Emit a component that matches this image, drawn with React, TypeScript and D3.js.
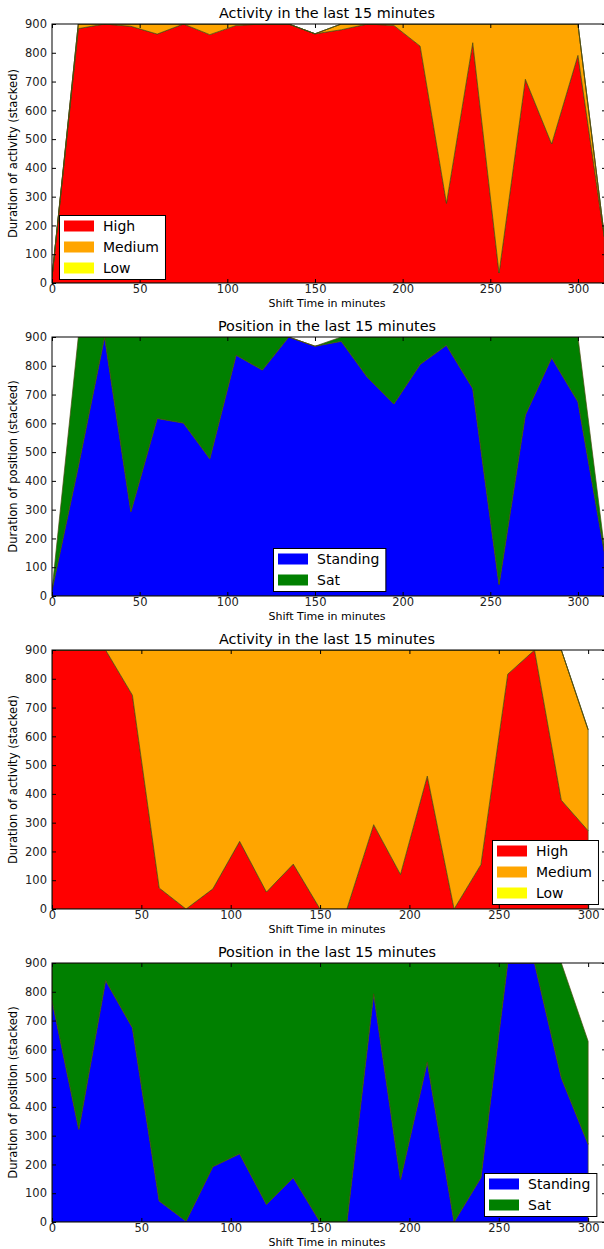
import React, { useEffect, useRef } from 'react'
import * as d3 from 'd3'

/* shift times in minutes */
const minutesLong = [0, 15, 30, 45, 60, 75, 90, 105, 120, 135, 150, 165, 180, 195, 210, 225, 240, 255, 270, 285, 300, 315]
const minutesShort = [0, 15, 30, 45, 60, 75, 90, 105, 120, 135, 150, 165, 180, 195, 210, 225, 240, 255, 270, 285, 300]

/* panel 1 - activity */
const high1 = [20, 884, 900, 892, 865, 900, 863, 895, 900, 900, 866, 880, 900, 895, 823, 277, 835, 35, 708, 483, 791, 160]
const medium1 = [0, 16, 0, 8, 35, 0, 37, 5, 0, 0, 0, 20, 0, 5, 77, 623, 65, 865, 192, 417, 109, 5]
const low1 = [0, 0, 0, 0, 0, 0, 0, 0, 0, 0, 0, 0, 0, 0, 0, 0, 0, 0, 0, 0, 0, 0]

/* panel 2 - position */
const standing2 = [20, 450, 900, 293, 617, 601, 477, 837, 785, 900, 868, 885, 759, 667, 805, 871, 721, 40, 629, 828, 675, 155]
const sat2 = [0, 450, 0, 607, 283, 299, 423, 63, 115, 0, 0, 15, 141, 233, 95, 29, 179, 860, 271, 72, 225, 15]

/* panel 3 - activity */
const high3 = [900, 900, 900, 743, 73, 0, 70, 235, 59, 156, 0, 0, 293, 120, 462, 0, 154, 816, 900, 378, 272]
const medium3 = [0, 0, 0, 157, 827, 900, 830, 665, 841, 744, 900, 900, 607, 780, 438, 900, 746, 84, 0, 522, 351]
const low3 = [0, 0, 0, 0, 0, 0, 0, 0, 0, 0, 0, 0, 0, 0, 0, 0, 0, 0, 0, 0, 0]

/* panel 4 - position */
const standing4 = [770, 322, 839, 675, 73, 3, 192, 237, 61, 154, 0, 0, 793, 148, 556, 0, 154, 900, 900, 501, 270]
const sat4 = [130, 578, 61, 225, 827, 897, 708, 663, 839, 746, 900, 900, 107, 752, 344, 900, 746, 0, 0, 399, 358]

const activityKeys = ['High', 'Medium', 'Low']
const activityColors = ['#ff0000', '#ffa500', '#ffff00']
const positionKeys = ['Standing', 'Sat']
const positionColors = ['#0000ff', '#008000']

const yTicks = [0, 100, 200, 300, 400, 500, 600, 700, 800, 900]
const xTicks = [0, 50, 100, 150, 200, 250, 300]

const panels = [
  { title: 'Activity in the last 15 minutes', ylabel: 'Duration of activity (stacked)', times: minutesLong, xMax: 316,
    keys: activityKeys, colors: activityColors, series: [high1, medium1, low1], top: 24, legend: [59, 215] },
  { title: 'Position in the last 15 minutes', ylabel: 'Duration of position (stacked)', times: minutesLong, xMax: 316,
    keys: positionKeys, colors: positionColors, series: [standing2, sat2], top: 337, legend: [273, 548] },
  { title: 'Activity in the last 15 minutes', ylabel: 'Duration of activity (stacked)', times: minutesShort, xMax: 310,
    keys: activityKeys, colors: activityColors, series: [high3, medium3, low3], top: 650, legend: [492, 840] },
  { title: 'Position in the last 15 minutes', ylabel: 'Duration of position (stacked)', times: minutesShort, xMax: 310,
    keys: positionKeys, colors: positionColors, series: [standing4, sat4], top: 963, legend: [484, 1173] },
]

const W = 604
const H = 1249
const FONT = 'DejaVu Sans, sans-serif'

function textWidth(s: string, size: number) {
  const ctx = document.createElement('canvas').getContext('2d')!
  ctx.font = `${size}px DejaVu Sans`
  return ctx.measureText(s).width
}

function drawPanel(svg: any, p: any, idx: number) {
  const left = 52, right = 606, top = p.top, bottom = p.top + 259
  const x = d3.scaleLinear().domain([0, p.xMax]).range([left, right])
  const y = d3.scaleLinear().domain([0, 900]).range([bottom, top])

  const rows = p.times.map((t: number, i: number) => {
    const r: any = { t }
    p.keys.forEach((k: string, j: number) => { r[k] = p.series[j][i] })
    return r
  })
  const layers = d3.stack().keys(p.keys)(rows)
  const area = d3.area<any>()
    .x(d => x(d.data.t))
    .y0(d => y(d[0]))
    .y1(d => y(d[1]))

  const g = svg.append('g')
  const clipId = `clip${idx}`
  g.append('clipPath').attr('id', clipId)
    .append('rect').attr('x', left).attr('y', top).attr('width', right - left).attr('height', bottom - top)

  g.append('g').attr('clip-path', `url(#${clipId})`)
    .selectAll('path')
    .data(layers)
    .enter()
    .append('path')
    .attr('d', area)
    .attr('fill', (d: any, i: number) => p.colors[i])
    .attr('stroke', '#4a4a10')
    .attr('stroke-width', 0.7)

  /* axes, ticks pointing inward on all sides */
  const ax = (a: any) => a.tickSizeInner(-4).tickSizeOuter(0)
  g.append('g').attr('transform', `translate(0,${bottom})`)
    .call(ax(d3.axisBottom(x).tickValues(xTicks)).tickPadding(2))
  g.append('g').attr('transform', `translate(${left},0)`)
    .call(ax(d3.axisLeft(y).tickValues(yTicks)).tickPadding(5))
  g.append('g').attr('transform', `translate(0,${top})`)
    .call(ax(d3.axisTop(x).tickValues(xTicks)).tickFormat(() => ''))
  g.append('g').attr('transform', `translate(${right},0)`)
    .call(ax(d3.axisRight(y).tickValues(yTicks)).tickFormat(() => ''))
  g.selectAll('.domain').remove()
  g.selectAll('.tick line').attr('stroke', '#000')
  g.selectAll('.tick text').attr('font-family', FONT).attr('font-size', 11.5).attr('fill', '#222')

  g.append('rect')
    .attr('x', left).attr('y', top).attr('width', right - left).attr('height', bottom - top)
    .attr('fill', 'none').attr('stroke', '#000').attr('stroke-width', 1)

  g.append('text')
    .attr('x', (left + right) / 2 - 2).attr('y', top - 6)
    .attr('text-anchor', 'middle').attr('font-family', FONT).attr('font-size', 14.4)
    .text(p.title)
  g.append('text')
    .attr('x', (left + right) / 2 - 2).attr('y', bottom + 24)
    .attr('text-anchor', 'middle').attr('font-family', FONT).attr('font-size', 11)
    .text('Shift Time in minutes')
  g.append('text')
    .attr('transform', `translate(17,${(top + bottom) / 2}) rotate(-90)`)
    .attr('text-anchor', 'middle').attr('font-family', FONT).attr('font-size', 11.6)
    .text(p.ylabel)

  /* legend */
  const [lx, ly] = p.legend
  const tw = d3.max(p.keys, (k: string) => textWidth(k, 14)) as number
  const lg = g.append('g').attr('transform', `translate(${lx},${ly})`)
  lg.append('rect')
    .attr('x', 0.5).attr('y', 0.5)
    .attr('width', 5 + 30 + 9 + tw + 6).attr('height', 21 * p.keys.length + 1)
    .attr('fill', '#fff').attr('stroke', '#000').attr('stroke-width', 1)
  const item = lg.selectAll('g.item').data(p.keys).enter().append('g')
    .attr('transform', (d: string, i: number) => `translate(0,${11 + i * 21})`)
  item.append('rect')
    .attr('x', 5).attr('y', -5.5).attr('width', 30).attr('height', 11)
    .attr('fill', (d: string, i: number) => p.colors[i])
  item.append('text')
    .attr('x', 44).attr('y', 5)
    .attr('font-family', FONT).attr('font-size', 14)
    .text((d: string) => d)
}

export default function App() {
  const ref = useRef<SVGSVGElement>(null)
  useEffect(() => {
    const svg = d3.select(ref.current)
    svg.selectAll('*').remove()
    panels.forEach((p, i) => drawPanel(svg, p, i))
  }, [])
  return (
    <svg ref={ref} width={W} height={H} viewBox={`0 0 ${W} ${H}`}
      style={{ position: 'absolute', left: 0, top: 0, background: '#fff' }} />
  )
}
